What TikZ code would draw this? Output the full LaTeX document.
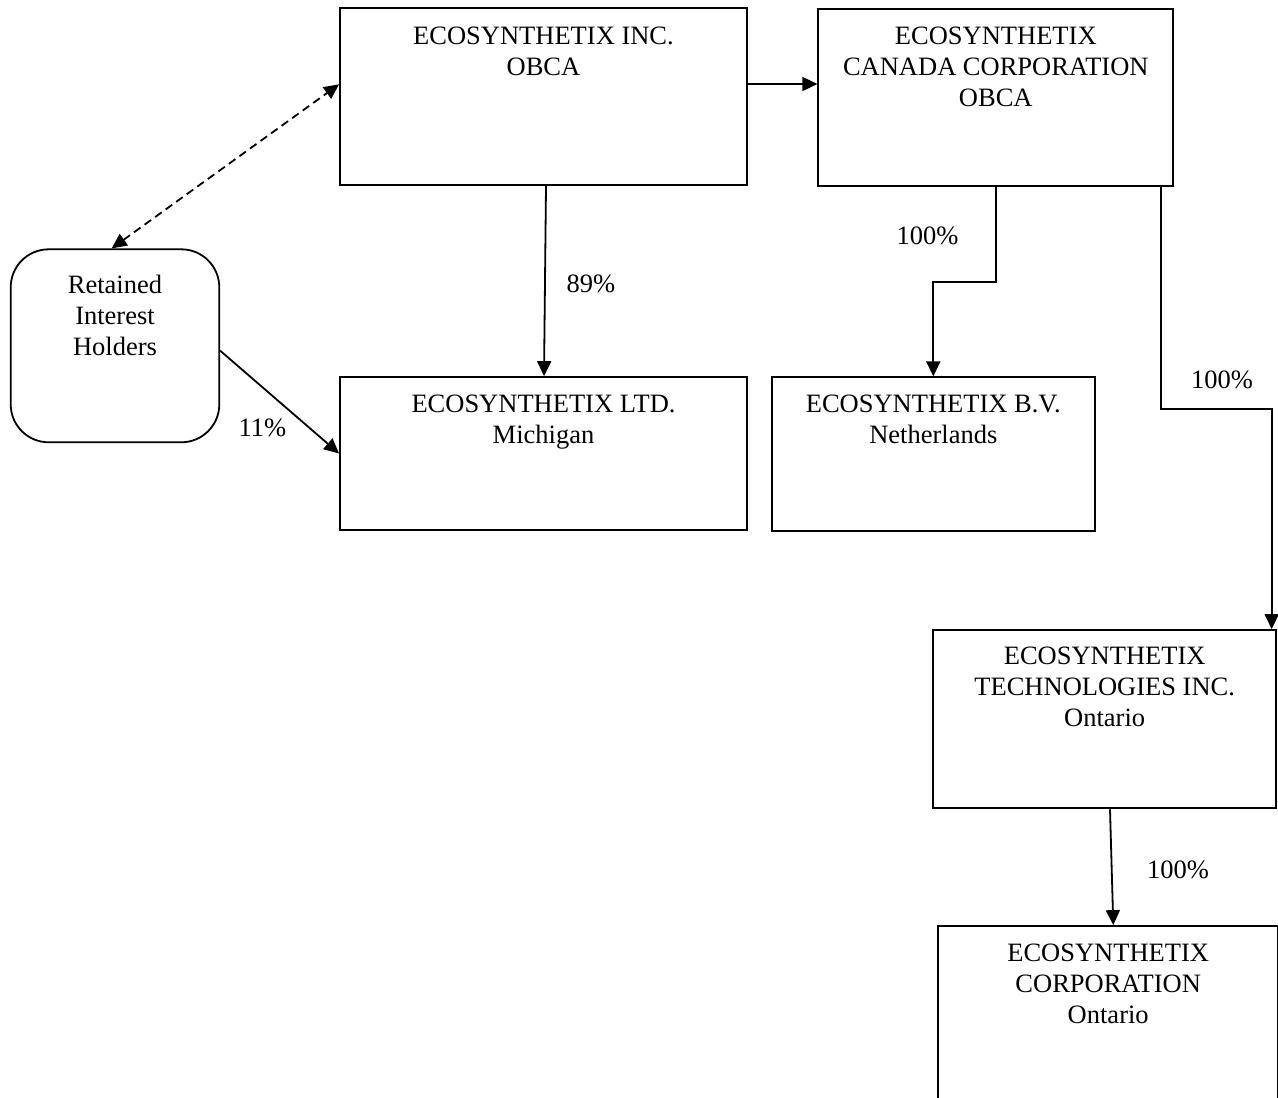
\documentclass[tikz,border=0pt]{standalone}
\usepackage{fontspec}
\setmainfont{Liberation Serif}
\usetikzlibrary{arrows.meta,calc}
\begin{document}
\begin{tikzpicture}[x=1pt,y=-1pt,
  box/.style={draw, line width=1.8pt, rectangle, inner sep=0pt},
  rbox/.style={box, rounded corners=38pt},
  txt/.style={anchor=north, inner sep=0pt, align=center, font=\fontsize{26.5}{31}\selectfont},
  pct/.style={anchor=base, inner sep=0pt, font=\fontsize{26.5}{31}\selectfont},
  arr/.style={line width=1.8pt, -{Triangle[length=15pt,width=14pt]}},
  darr/.style={line width=1.8pt, dash pattern=on 8pt off 5pt, {Triangle[length=15pt,width=14pt]}-{Triangle[length=15pt,width=14pt]}}
]
\useasboundingbox (0,0) rectangle (1278,1098);
\fill[white] (0,0) rectangle (1278,1098);

% boxes
\node[box, minimum width=407pt, minimum height=177pt] (A) at (543.5,96.7) {};
\node[box, minimum width=355pt, minimum height=176.7pt] (B) at (995.8,97.3) {};
\node[box, minimum width=407pt, minimum height=153pt] (C) at (543.5,453.5) {};
\node[box, minimum width=323.3pt, minimum height=153.4pt] (D) at (933.3,454) {};
\node[rbox, minimum width=208.6pt, minimum height=193pt] (R) at (115,345.8) {};
\node[box, minimum width=342.7pt, minimum height=178.3pt] (E) at (1104.7,719.2) {};
\node[box, minimum width=339.7pt, minimum height=184pt] (F) at (1108.2,1018) {};

% texts
\node[txt] (tA) at (543.5,26.3) {ECOSYNTHETIX INC.\\OBCA};
\node[txt] (tB) at (995.8,26.3) {ECOSYNTHETIX\\CANADA CORPORATION\\OBCA};
\node[txt] (tC) at (543.5,395) {ECOSYNTHETIX LTD.\\Michigan};
\node[txt] (tD) at (933.3,395) {ECOSYNTHETIX B.V.\\Netherlands};
\node[txt] (tR) at (115,275.3) {Retained\\Interest\\Holders};
\node[txt] (tE) at (1104.7,647) {ECOSYNTHETIX\\TECHNOLOGIES INC.\\Ontario};
\node[txt] (tF) at (1108.2,943.7) {ECOSYNTHETIX\\CORPORATION\\Ontario};

% connectors
\draw[darr] ([xshift=-3.3pt]R.north) -- ([yshift=12.4pt]A.west);
\draw[arr] ([yshift=12.7pt]A.east) -- ([yshift=12.7pt]A.east -| B.west);
\draw[arr] ([xshift=2.5pt]A.south) -- ([xshift=0.5pt]C.north);
\draw[arr] ([yshift=-4.9pt]R.east) -- (C.west);
\draw[arr] (B.south) -- ++(0,95.3) -| (D.north);
\draw[arr] ([xshift=164.9pt]B.south) -- ++(0,222.3) -| ([xshift=167pt]E.north);
\draw[arr] ([xshift=5.3pt]E.south) -- ([xshift=5.1pt]F.north);

% labels
\node[pct] (p89) at (590.8,292.3) {89\%};
\node[pct] (p11) at (262.5,436.7) {11\%};
\node[pct] (p100a) at (927.5,244) {100\%};
\node[pct] (p100b) at (1222,388.3) {100\%};
\node[pct] (p100c) at (1178,878.3) {100\%};
\end{tikzpicture}
\end{document}
